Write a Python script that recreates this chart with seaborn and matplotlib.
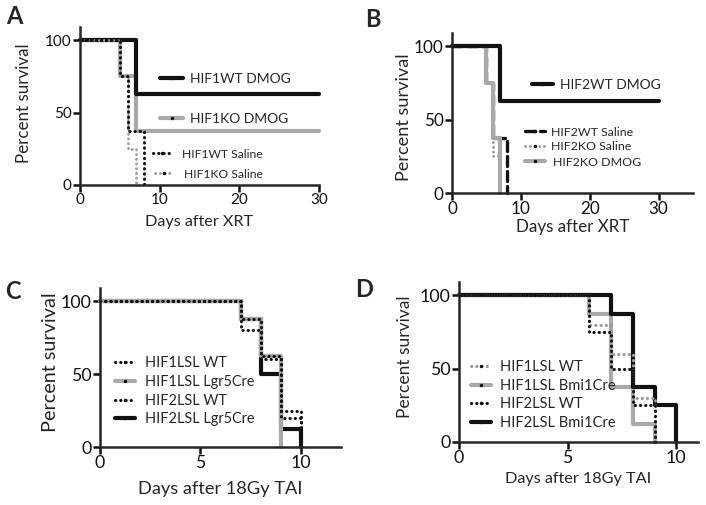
import matplotlib
matplotlib.use("Agg")
import matplotlib.pyplot as plt
from matplotlib.lines import Line2D
import seaborn as sns

# ---- data (day of each step, percent survival after the step) ----
# A: HIF1 after XRT
a_wt_dmog_days, a_wt_dmog_surv = [0, 7, 30], [100, 62.5, 62.5]
a_ko_dmog_days, a_ko_dmog_surv = [0, 5, 7, 30], [100, 75, 37.5, 37.5]
a_wt_sal_days, a_wt_sal_surv = [0, 5, 6, 8], [100, 75, 37.5, 0]
a_ko_sal_days, a_ko_sal_surv = [0, 5, 6, 7], [100, 75, 25, 0]

# B: HIF2 after XRT
b_wt_dmog_days, b_wt_dmog_surv = [0, 7, 30], [100, 62.5, 62.5]
b_wt_sal_days, b_wt_sal_surv = [0, 5, 6, 8], [100, 75, 37.5, 0]
b_ko_sal_days, b_ko_sal_surv = [0, 5, 6, 7], [100, 75, 25, 0]
b_ko_dmog_days, b_ko_dmog_surv = [0, 5, 6, 7], [100, 75, 37.5, 0]

# C: Lgr5Cre after 18Gy TAI
c_h1_wt_days, c_h1_wt_surv = [0, 7, 8, 9, 10], [100, 80, 60, 20, 0]
c_h1_cre_days, c_h1_cre_surv = [0, 7, 8, 9], [100, 87.5, 62.5, 0]
c_h2_wt_days, c_h2_wt_surv = [0, 7, 8, 9, 10], [100, 87.5, 62.5, 25, 0]
c_h2_cre_days, c_h2_cre_surv = [0, 7, 8, 9, 10], [100, 87.5, 50, 12.5, 0]

# D: Bmi1Cre after 18Gy TAI
d_h1_wt_days, d_h1_wt_surv = [0, 6, 7, 8, 9], [100, 80, 60, 30, 0]
d_h1_cre_days, d_h1_cre_surv = [0, 6, 7, 8, 9], [100, 87.5, 37.5, 12.5, 0]
d_h2_wt_days, d_h2_wt_surv = [0, 6, 7, 8, 9], [100, 75, 50, 25, 0]
d_h2_cre_days, d_h2_cre_surv = [0, 7, 8, 9, 10], [100, 87.5, 37.5, 25, 0]

BLACK = "#111111"
GRAY = "#a9a9a9"
LGRAY = "#9a9a9a"
DOT = (0, (0.1, 1.6))
DASH = (0, (3, 1.5))

sns.set_style("ticks")
plt.rcParams["font.family"] = ["Lato", "DejaVu Sans"]
plt.rcParams["axes.linewidth"] = 1.8

W, H = 706, 505
GROW = 1.06  # reference font is narrower, so give a little extra size for height
fig = plt.figure(figsize=(W / 100, H / 100), dpi=100)
renderer = fig.canvas.get_renderer()


def fit_size(s, target_px, base=12.0):
    # font size that makes text s about target_px wide
    t = fig.text(0, 0, s, fontsize=base)
    w = t.get_window_extent(renderer).width
    t.remove()
    return base * target_px * GROW / w


def make_axes(left, right, bottom, top):
    ax = fig.add_axes([left / W, 1 - bottom / H, (right - left) / W, (bottom - top) / H])
    ax.px = (left, right, bottom, top)
    return ax


def step(ax, days, surv, color, lw, ls="-"):
    sns.lineplot(x=days, y=surv, ax=ax, color=color, lw=lw, linestyle=ls,
                 drawstyle="steps-post", clip_on=False, errorbar=None,
                 dash_capstyle="round")


def style(ax, xmax, xticks, xlabel, letter, lx, ly, tick_w, xl_w, xl_y, yl_h, yl_x, yl_y):
    left, right, bottom, top = ax.px
    ax.set_xlim(0, xmax)
    ax.set_ylim(0, 109)
    ax.set_xticks(xticks)
    ax.set_yticks([0, 50, 100])
    ax.tick_params(direction="out", length=5, width=1.8, labelsize=fit_size("100", tick_w),
                   pad=1, colors="#111111")
    ax.set_xlabel(xlabel, fontsize=fit_size(xlabel, xl_w), va="center")
    ax.xaxis.set_label_coords(0.5, (bottom - xl_y) / (bottom - top))
    ax.set_ylabel("Percent survival", fontsize=fit_size("Percent survival", yl_h),
                  va="center", ha="center")
    ax.yaxis.set_label_coords((yl_x - left) / (right - left), (bottom - yl_y) / (bottom - top))
    sns.despine(ax=ax)
    fig.text(lx / W, 1 - ly / H, letter, fontsize=17, fontweight="bold", ha="left", va="top")


def key(ax, color, lw, ls, label, x0, x1, xt, yc, size):
    # one legend row: handle from x0 to x1, text starting at xt, centred at yc (pixels)
    fs_px = size * 100 / 72
    h = Line2D([0], [0], color=color, lw=lw, linestyle=ls, dash_capstyle="round",
               marker=".", markersize=3, markerfacecolor=BLACK, markeredgecolor=BLACK)
    leg = ax.legend([h], [label], loc="center left", bbox_to_anchor=(x0 / W, 1 - yc / H),
                    bbox_transform=fig.transFigure, frameon=False, fontsize=size,
                    handlelength=(x1 - x0) / fs_px, handletextpad=(xt - x1) / fs_px,
                    borderpad=0, borderaxespad=0)
    ax.add_artist(leg)
    ax.legend_ = None  # keep it only as an added artist, so it is drawn once


# ---- A ----
axA = make_axes(80, 319, 185, 27)
step(axA, a_ko_dmog_days, a_ko_dmog_surv, GRAY, 3)
step(axA, a_wt_dmog_days, a_wt_dmog_surv, BLACK, 3)
step(axA, a_ko_sal_days, a_ko_sal_surv, LGRAY, 2, DOT)
step(axA, a_wt_sal_days, a_wt_sal_surv, BLACK, 2.2, DOT)
style(axA, 30, [0, 10, 20, 30], "Days after XRT", "A", 6, 5,
      25, 102, 222, 113, 24, 103)
s_big = fit_size("HIF1WT DMOG", 95)
s_small = fit_size("HIF1WT Saline", 76)
key(axA, BLACK, 3, "-", "HIF1WT DMOG", 160, 183, 190, 79, s_big)
key(axA, GRAY, 3, "-", "HIF1KO DMOG", 160, 183, 190, 119, s_big)
key(axA, BLACK, 2.2, DOT, "HIF1WT Saline", 153, 170, 182, 154, s_small)
key(axA, LGRAY, 2, DOT, "HIF1KO Saline", 155, 172, 184, 174, s_small)

# ---- B ----
axB = make_axes(452, 693, 193, 33)
step(axB, b_ko_sal_days, b_ko_sal_surv, LGRAY, 2, DOT)
step(axB, b_wt_sal_days, b_wt_sal_surv, BLACK, 2.4, DASH)
step(axB, b_ko_dmog_days, b_ko_dmog_surv, GRAY, 3)
step(axB, b_wt_dmog_days, b_wt_dmog_surv, BLACK, 3)
style(axB, 35, [0, 10, 20, 30], "Days after XRT", "B", 365, 8,
      28, 107, 227, 120, 404, 117)
s_big = fit_size("HIF2WT DMOG", 95)
s_small = fit_size("HIF2WT Saline", 78)
key(axB, BLACK, 3, "-", "HIF2WT DMOG", 532, 553, 560, 85, s_big)
key(axB, BLACK, 2.4, DASH, "HIF2WT Saline", 525, 545, 551, 132, s_small)
key(axB, LGRAY, 2, DOT, "HIF2KO Saline", 525, 545, 551, 147, s_small)
key(axB, GRAY, 3, "-", "HIF2KO DMOG", 525, 545, 553, 162, s_small)

# ---- C ----
axC = make_axes(100, 341, 447, 288)
step(axC, c_h2_cre_days, c_h2_cre_surv, BLACK, 3)
step(axC, c_h1_cre_days, c_h1_cre_surv, GRAY, 3)
step(axC, c_h2_wt_days, c_h2_wt_surv, BLACK, 2.2, DOT)
step(axC, c_h1_wt_days, c_h1_wt_surv, BLACK, 2.2, DOT)
style(axC, 12, [0, 5, 10], "Days after 18Gy TAI", "C", 5, 280,
      29, 155, 489, 132, 50, 362)
s_c = fit_size("HIF1LSL Lgr5Cre", 103)
key(axC, BLACK, 2.2, DOT, "HIF1LSL WT", 115, 135, 145, 363, s_c)
key(axC, GRAY, 3, "-", "HIF1LSL Lgr5Cre", 115, 135, 145, 382, s_c)
key(axC, BLACK, 2.2, DOT, "HIF2LSL WT", 115, 135, 145, 401, s_c)
key(axC, BLACK, 3, "-", "HIF2LSL Lgr5Cre", 115, 135, 145, 419, s_c)

# ---- D ----
axD = make_axes(459, 698, 442, 282)
step(axD, d_h1_cre_days, d_h1_cre_surv, GRAY, 3)
step(axD, d_h2_cre_days, d_h2_cre_surv, BLACK, 3)
step(axD, d_h1_wt_days, d_h1_wt_surv, LGRAY, 2.2, DOT)
step(axD, d_h2_wt_days, d_h2_wt_surv, BLACK, 2.2, DOT)
style(axD, 11, [0, 5, 10], "Days after 18Gy TAI", "D", 355, 278,
      29, 138, 479, 115, 405, 357)
s_d = fit_size("HIF1LSL Bmi1Cre", 109)
key(axD, LGRAY, 2.2, DOT, "HIF1LSL WT", 471, 491, 500, 367, s_d)
key(axD, GRAY, 3, "-", "HIF1LSL Bmi1Cre", 471, 491, 500, 386, s_d)
key(axD, BLACK, 2.2, DOT, "HIF2LSL WT", 471, 491, 500, 404, s_d)
key(axD, BLACK, 3, "-", "HIF2LSL Bmi1Cre", 471, 491, 500, 423, s_d)

fig.savefig("out.png", dpi=100)
